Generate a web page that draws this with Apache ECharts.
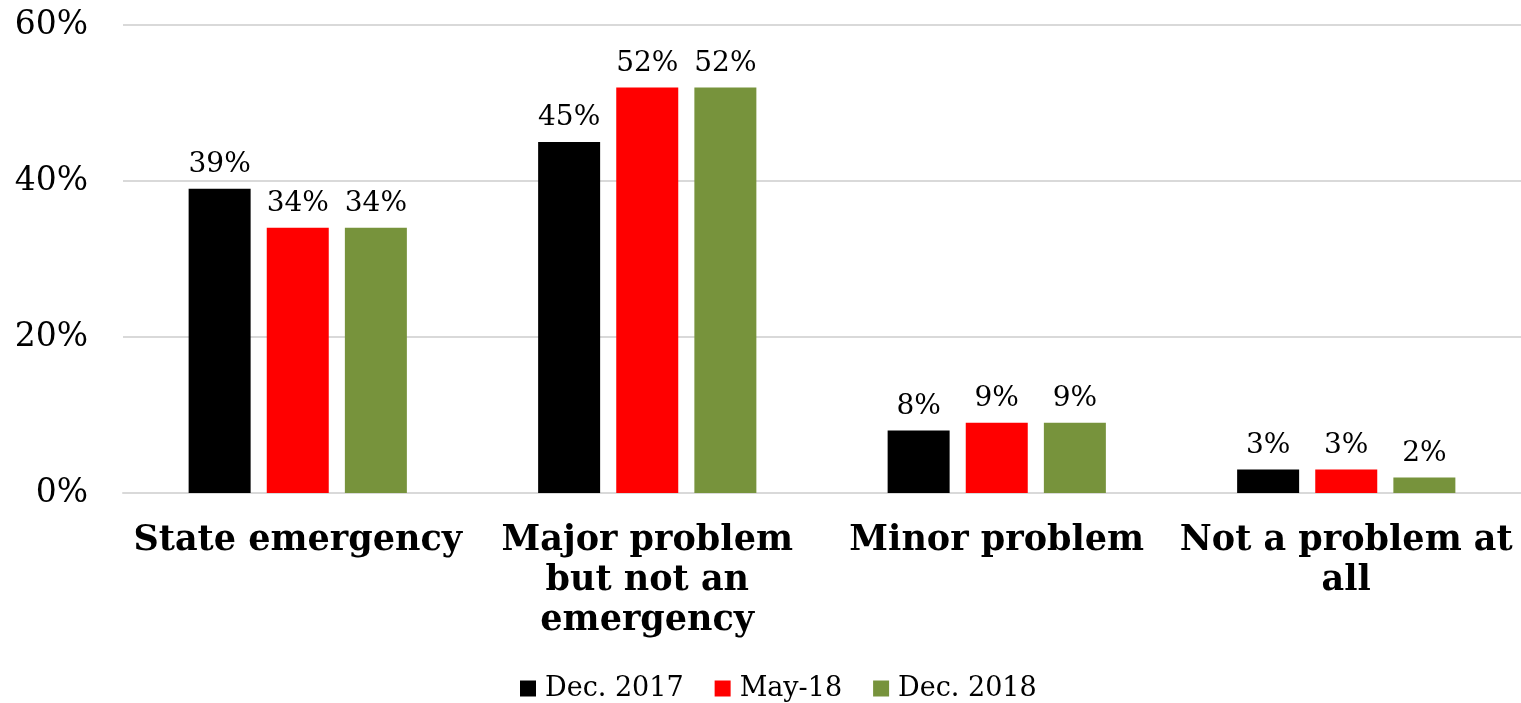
<!DOCTYPE html>
<html>
<head>
<meta charset="utf-8">
<script src="https://cdn.jsdelivr.net/npm/echarts@6/dist/echarts.min.js"></script>
<style>
  html, body { margin: 0; padding: 0; background: #fff; }
  #main { width: 1521px; height: 703px; }
</style>
</head>
<body>
<div id="main"></div>
<script>
var categories = ['State emergency', 'Major problem\nbut not an\nemergency', 'Minor problem', 'Not a problem at\nall'];
var seriesNames = ['Dec. 2017', 'May-18', 'Dec. 2018'];
var dec2017 = [39, 45, 8, 3];
var may2018 = [34, 52, 9, 3];
var dec2018 = [34, 52, 9, 2];
var colors = ['#000000', '#ff0000', '#77933c'];

var font = 'Georgia, "DejaVu Serif", serif';
var myChart = echarts.init(document.getElementById('main'));

function bar(name, data, color) {
    return {
        name: name,
        type: 'bar',
        data: data,
        barWidth: 62,
        barGap: '26%',
        itemStyle: { color: color },
        label: {
            show: true,
            position: 'top',
            distance: 10,
            formatter: '{c}%',
            fontFamily: font,
            fontSize: 28,
            color: '#000'
        }
    };
}

myChart.setOption({
    animation: false,
    textStyle: { fontFamily: font },
    grid: { left: 123, right: 0, top: 25, bottom: 210 },
    legend: {
        data: seriesNames,
        top: 670,
        left: 515,
        icon: 'rect',
        itemWidth: 16,
        itemHeight: 16,
        itemGap: 31,
        textStyle: { fontFamily: font, fontSize: 27, color: '#000', padding: [0, 0, 0, 4] }
    },
    xAxis: {
        type: 'category',
        data: categories,
        axisTick: { show: false },
        axisLine: { lineStyle: { color: '#d9d9d9', width: 2 } },
        axisLabel: {
            interval: 0,
            margin: 28,
            fontFamily: font,
            fontWeight: 'bold',
            fontSize: 35,
            lineHeight: 40,
            color: '#000'
        }
    },
    yAxis: {
        type: 'value',
        min: 0,
        max: 60,
        interval: 20,
        axisLine: { show: false },
        axisTick: { show: false },
        splitLine: { lineStyle: { color: '#d9d9d9', width: 2 } },
        axisLabel: {
            formatter: '{value}%',
            margin: 35,
            fontFamily: font,
            fontSize: 33,
            color: '#000'
        }
    },
    series: [
        bar(seriesNames[0], dec2017, colors[0]),
        bar(seriesNames[1], may2018, colors[1]),
        bar(seriesNames[2], dec2018, colors[2])
    ]
});
</script>
</body>
</html>
